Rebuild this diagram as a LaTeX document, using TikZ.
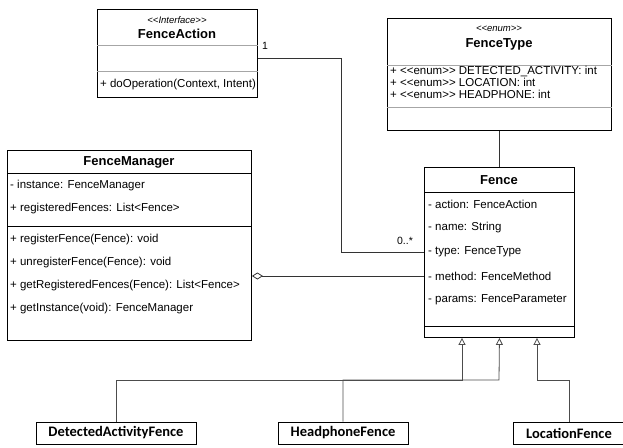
\documentclass[tikz,border=0pt]{standalone}
\usepackage{fontspec}
\setmainfont{Liberation Sans}[Ligatures=TeXOff]
\newfontfamily\subfont{Carlito}
\usetikzlibrary{arrows.meta}

\tikzset{
	box/.style={draw, line width=0.9pt, anchor=north west, inner sep=0pt},
	member/.style={anchor=west, inner sep=0pt, font=\fontsize{11.5}{13}\selectfont},
	title/.style={inner sep=0pt, font=\fontsize{13}{15}\selectfont\bfseries},
	stereo/.style={inner sep=0pt, font=\fontsize{9.5}{11}\selectfont\itshape},
	mult/.style={inner sep=0pt, font=\fontsize{10.5}{12}\selectfont},
	subclass/.style={draw, line width=0.9pt, minimum height=22pt, inner sep=0pt, font=\subfont\fontsize{14.5}{16}\selectfont\bfseries},
	sep/.style={line width=0.8pt},
	lightsep/.style={line width=0.8pt, black!35},
	link/.style={line width=0.8pt, black!80},
	extends/.style={line width=0.8pt, black!70, -{Triangle[open, length=7pt, width=7pt]}}
}

\begin{document}
\begin{tikzpicture}[x=1pt, y=-1pt]
	\useasboundingbox (0, 0) rectangle (623, 447);

	\node[box, minimum width=160pt, minimum height=88pt] (actbox) at (97, 9) {};
	\node[stereo] (act-stereo) at (177, 20) {<<Interface>>};
	\node[title] (act-title) at (177, 34) {FenceAction};
	\draw[lightsep] (actbox.west |- 0, 45) -- (actbox.east |- 0, 45);
	\draw[lightsep] (actbox.west |- 0, 71) -- (actbox.east |- 0, 71);
	\node[member] (act-op) at (100, 85) {+ doOperation(Context, Intent)};

	\node[box, minimum width=224pt, minimum height=112pt] (typebox) at (387, 18) {};
	\node[stereo] (type-stereo) at (499, 29) {<<enum>>};
	\node[title] (type-title) at (499, 44) {FenceType};
	\draw[lightsep] (typebox.west |- 0, 65) -- (typebox.east |- 0, 65);
	\draw[lightsep] (typebox.west |- 0, 107) -- (typebox.east |- 0, 107);
	\node[member] (type-da) at (390, 71) {+ <<enum>> DETECTED\_ACTIVITY: int};
	\node[member] (type-loc) at (390, 82.5) {+ <<enum>> LOCATION: int};
	\node[member] (type-hp) at (390, 94) {+ <<enum>> HEADPHONE: int};

	\node[box, minimum width=244pt, minimum height=190pt] (mgrbox) at (7, 150) {};
	\node[title] (mgr-title) at (129, 162) {FenceManager};
	\draw[sep] (mgrbox.west |- 0, 173) -- (mgrbox.east |- 0, 173);
	\node[member] (mgr-inst) at (10, 186) {- instance: FenceManager};
	\node[member] (mgr-reg) at (10, 209) {+ registeredFences: List<Fence>};
	\draw[sep] (mgrbox.west |- 0, 226) -- (mgrbox.east |- 0, 226);
	\node[member] (mgr-op1) at (10, 240) {+ registerFence(Fence): void};
	\node[member] (mgr-op2) at (10, 263) {+ unregisterFence(Fence): void};
	\node[member] (mgr-op3) at (10, 286) {+ getRegisteredFences(Fence): List<Fence>};
	\node[member] (mgr-op4) at (10, 309) {+ getInstance(void): FenceManager};

	\node[box, minimum width=150pt, minimum height=170pt] (fencebox) at (424, 167) {};
	\node[title] (fence-title) at (499, 180) {Fence};
	\draw[sep] (fencebox.west |- 0, 192) -- (fencebox.east |- 0, 192);
	\node[member] (f-action) at (428, 204) {- action: FenceAction};
	\node[member] (f-name) at (428, 228) {- name: String};
	\node[member] (f-type) at (428, 252) {- type: FenceType};
	\node[member] (f-method) at (428, 276) {- method: FenceMethod};
	\node[member] (f-params) at (428, 300) {- params: FenceParameter};
	\draw[sep] (fencebox.west |- 0, 326) -- (fencebox.east |- 0, 326);

	\node[subclass, minimum width=160pt] (daf) at (116, 433) {DetectedActivityFence};
	\node[subclass, minimum width=130pt] (hpf) at (343, 433) {HeadphoneFence};
	\node[subclass, minimum width=112pt] (locf) at (569, 433) {LocationFence};

	\draw[link] (actbox.east |- 0, 58) -| (341, 252) -- (f-type -| fencebox.west);
	\node[mult] (one) at (265, 46) {1};
	\node[mult] (many) at (405, 241) {0..*};

	\draw[link, {Diamond[open, length=11pt, width=7pt]}-] (f-method -| mgrbox.east) -- (f-method -| fencebox.west);

	\draw[link] (typebox.south) -- (fencebox.north);

	\draw[extends] (daf.north) |- (462, 380) -- (462, 0 |- fencebox.south);
	\draw[extends] (hpf.north) |- (499, 380) -- (fencebox.south);
	\draw[extends] (locf.north) |- (537, 380) -- (537, 0 |- fencebox.south);

\end{tikzpicture}
\end{document}
